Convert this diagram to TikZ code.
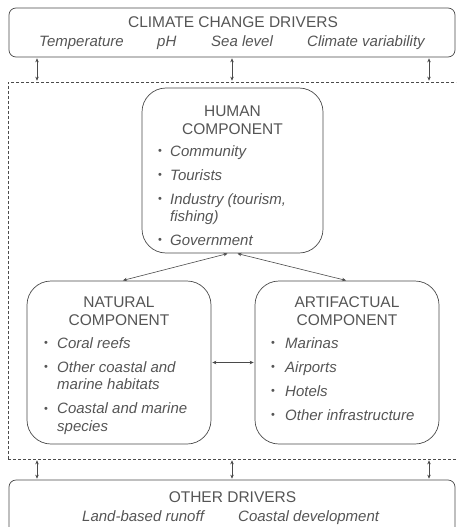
\documentclass[tikz,border=0pt]{standalone}
\usepackage{fontspec}
\setmainfont{Liberation Sans}
\definecolor{linegray}{HTML}{4a4a4a}
\definecolor{textgray}{HTML}{555555}
\usetikzlibrary{arrows.meta}

\begin{document}
\begin{tikzpicture}[x=1pt, y=-1pt,
		box/.style={draw=linegray, line width=0.7pt, rounded corners=7pt, inner sep=0pt},
		compbox/.style={box, rounded corners=24pt},
		frame/.style={draw=linegray, line width=0.7pt, dash pattern=on 3pt off 2pt, inner sep=0pt},
		title/.style={text=textgray, font=\fontsize{15.5}{18}\selectfont, anchor=base, inner sep=0pt},
		itm/.style={text=textgray, font=\fontsize{15}{18}\selectfont\itshape, anchor=base west, inner sep=0pt},
		bul/.style={text=textgray, font=\fontsize{11}{18}\selectfont, anchor=base, inner sep=0pt, yshift=1.2pt},
		arrow/.style={{Stealth[length=4pt,width=3.5pt]}-{Stealth[length=4pt,width=3.5pt]}, line width=0.6pt, draw=linegray, shorten <=1pt, shorten >=1pt}
	]
	\clip (0,0) rectangle (456,527);

	% Climate change drivers
	\node[box, minimum width=446pt, minimum height=49pt] (ccd) at (232,32.5) {};
	\node[title] (ccdtitle) at (233,28) {CLIMATE CHANGE DRIVERS};
	\foreach \x/\t [count=\i] in {39/Temperature, 157/pH, 211/Sea level, 307/Climate variability} {
			\node[itm] (ccd\i) at (\x,47) {\t};
		}

	% Dashed system frame
	\node[frame, minimum width=462pt, minimum height=377pt] (sys) at (239,270.5) {};

	% Other drivers
	\node[box, minimum width=446pt, minimum height=60pt] (od) at (232,510) {};
	\node[title] (odtitle) at (232.5,502) {OTHER DRIVERS};
	\node[itm] (od1) at (82,521) {Land-based runoff};
	\node[itm] (od2) at (238,521) {Coastal development};

	% Drivers to system
	\foreach \x [count=\i] in {37,232,429} {
			\coordinate (col\i) at (\x,0);
			\draw[arrow] (ccd.south -| col\i) -- (sys.north -| col\i);
			\draw[arrow] (sys.south -| col\i) -- (od.north -| col\i);
		}

	% Human component
	\node[compbox, minimum width=181pt, minimum height=165pt] (human) at (232.5,170.5) {};
	\node[title] (ht1) at (232.5,116) {HUMAN};
	\node[title] (ht2) at (232.5,134) {COMPONENT};
	\foreach \y [count=\i] in {156,180,204,245} {
			\node[bul] (hb\i) at (160,\y) {•};
		}
	\foreach \y/\t [count=\i] in {156/Community, 180/Tourists, 204/{Industry (tourism,}, 221.5/fishing), 245/Government} {
			\node[itm] (hi\i) at (170,\y) {\t};
		}

	% Natural component
	\node[compbox, minimum width=184pt, minimum height=163pt] (natural) at (119,362.5) {};
	\node[title] (nt1) at (119,307) {NATURAL};
	\node[title] (nt2) at (119,325) {COMPONENT};
	\foreach \y [count=\i] in {348,372,413.5} {
			\node[bul] (nb\i) at (46,\y) {•};
		}
	\foreach \y/\t [count=\i] in {348/Coral reefs, 372/Other coastal and, 389.5/marine habitats, 413.5/Coastal and marine, 431/species} {
			\node[itm] (ni\i) at (57,\y) {\t};
		}

	% Artifactual component
	\node[compbox, minimum width=184pt, minimum height=163pt] (artif) at (347,362.5) {};
	\node[title] (at1) at (347,307) {ARTIFACTUAL};
	\node[title] (at2) at (347,325) {COMPONENT};
	\foreach \y/\t [count=\i] in {348/Marinas, 372/Airports, 396/Hotels, 420/Other infrastructure} {
			\node[bul] (ab\i) at (273,\y) {•};
			\node[itm] (ai\i) at (285,\y) {\t};
		}

	% Links between components
	\draw[arrow] ([xshift=-4pt]human.south) -- ([xshift=3pt]natural.north);
	\draw[arrow] ([xshift=4pt]human.south) -- (artif.north);
	\draw[arrow] (natural.east) -- (artif.west);
\end{tikzpicture}
\end{document}
